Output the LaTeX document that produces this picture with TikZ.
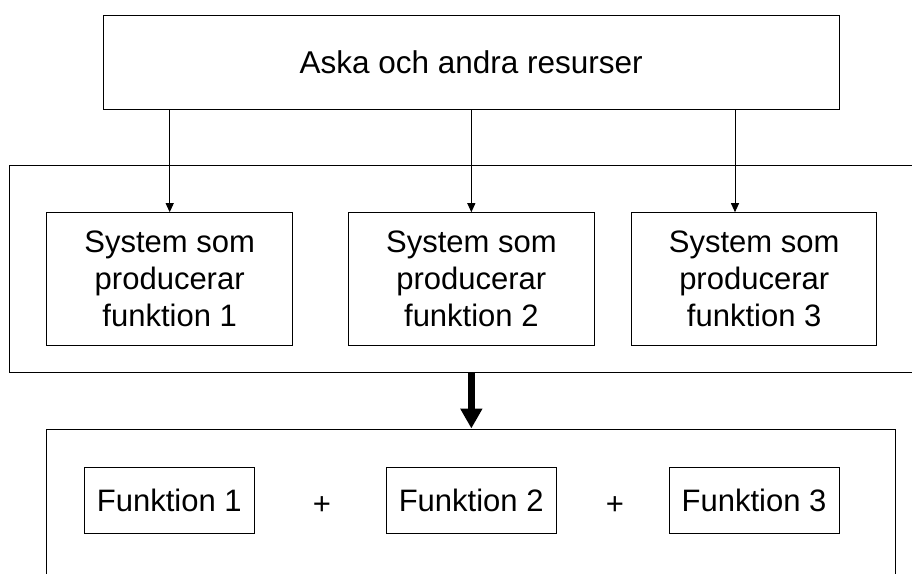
\documentclass[tikz,border=0pt]{standalone}
\usepackage{fontspec}
\setmainfont{Liberation Sans}
\usetikzlibrary{arrows.meta}
\begin{document}
\begin{tikzpicture}[x=1pt,y=-1pt,
  every node/.style={font=\fontsize{31}{37}\selectfont, inner sep=0pt, align=center},
  frame/.style={draw=black, line width=1pt, fill=none},
  thinarrow/.style={draw=black, line width=1pt, -{Triangle[width=8pt,length=9pt]}},
  bigarrow/.style={draw=black, line width=7pt, -{Triangle[width=21pt,length=20pt]}}]
\useasboundingbox (0,0) rectangle (912,573);
\clip (0,0) rectangle (912,573);
% containers
\node[frame, minimum width=911pt, minimum height=207pt] (mid) at (464.5,269.2) {};
\node[frame, minimum width=848.3pt, minimum height=220pt] (bot) at (470.85,539) {};
% resource box
\node[frame, minimum width=735.7pt, minimum height=93.6pt, font=\fontsize{31.5}{37}\selectfont] (res) at (471.15,62.5) {Aska och andra resurser};
% producing systems
\node[frame, minimum width=246pt, minimum height=132.3pt] (s1) at (169.7,278.85) {System som\\producerar\\funktion 1};
\node[frame, minimum width=245.3pt, minimum height=132.3pt] (s2) at (471.35,278.85) {System som\\producerar\\funktion 2};
\node[frame, minimum width=245pt, minimum height=132.3pt] (s3) at (754.2,278.85) {System som\\producerar\\funktion 3};
% resulting functions
\node[frame, minimum width=170pt, minimum height=66pt] (f1) at (169.3,500.7) {Funktion 1};
\node[frame, minimum width=169.7pt, minimum height=66pt] (f2) at (471.15,500.7) {Funktion 2};
\node[frame, minimum width=170pt, minimum height=66pt] (f3) at (754,500.7) {Funktion 3};
\node (p1) at (322,506) {+};
\node (p2) at (615,506) {+};
% flows
\coordinate (a3) at (735,109.3);
\draw[thinarrow] (res.south -| s1) -- (s1.north);
\draw[thinarrow] (res.south -| s2) -- (s2.north);
\draw[thinarrow] (a3) -- (a3 |- s3.north);
\draw[bigarrow] (mid.south -| s2) -- (bot.north -| s2);
\end{tikzpicture}
\end{document}
